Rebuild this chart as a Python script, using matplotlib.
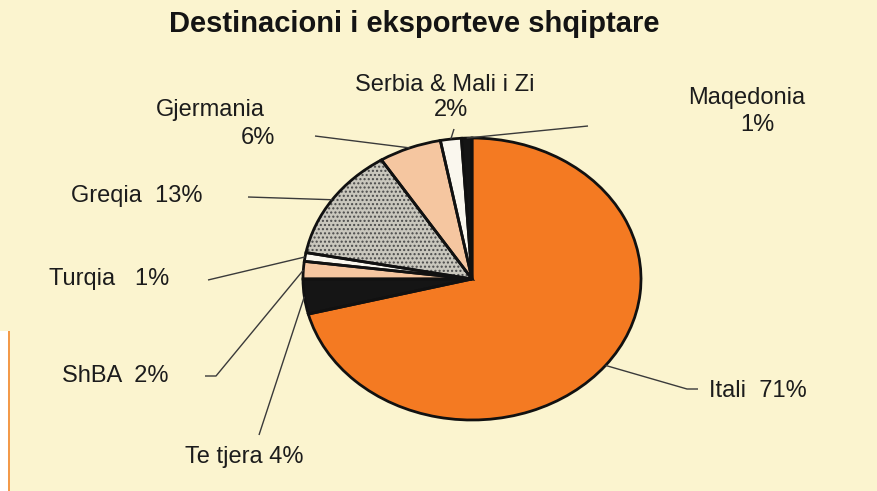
import numpy as np
import matplotlib.pyplot as plt

plt.rcParams['font.family'] = ['Liberation Sans', 'DejaVu Sans']

# data
countries = ["Itali", "Te tjera", "ShBA", "Turqia", "Greqia", "Gjermania", "Serbia & Mali i Zi", "Maqedonia"]
shares = [71, 4, 2, 1, 13, 6, 2, 1]
colors = ["#f47a22", "#151515", "#f5c6a0", "#faf7ee", "#c9c7bd", "#f5c6a0", "#faf7ee", "#151515"]
hatches = [None, None, None, None, "....", None, None, None]

# pixel layout of the (elliptical) pie in the 878x491 picture
W, H = 878, 491
CX, CY, RX, RY = 472, 279, 169, 141


def px(x, y):
    # picture pixel -> data coords
    return (x - CX) / RX, (CY - y) / RY


# label anchors (picture px), alignment, and leader waypoints after the pie edge
labels = {
    "Itali": dict(text="Itali  71%", xy=(709, 391), ha="left", path=[(687, 389), (698, 389)]),
    "Te tjera": dict(text="Te tjera 4%", xy=(185, 457), ha="left", path=[(259, 435)]),
    "ShBA": dict(text="ShBA  2%", xy=(62, 376), ha="left", path=[(216, 376), (205, 376)]),
    "Turqia": dict(text="Turqia   1%", xy=(49, 279), ha="left", path=[(208, 280)]),
    "Greqia": dict(text="Greqia  13%", xy=(71, 196), ha="left", path=[(248, 197)]),
    "Gjermania": dict(text="Gjermania", xy=(210, 110), ha="center", path=[(315, 136)]),
    "Serbia & Mali i Zi": dict(text="Serbia & Mali i Zi", xy=(445, 85), ha="center", path=[(454, 129)]),
    "Maqedonia": dict(text="Maqedonia", xy=(747, 98), ha="center", path=[(588, 126)]),
}
second_line = {
    "Gjermania": ("6%", (258, 138)),
    "Serbia & Mali i Zi": ("2%", (451, 110)),
    "Maqedonia": ("1%", (757, 125)),
}

fig = plt.figure(figsize=(W / 100, H / 100), dpi=100)
fig.patch.set_facecolor("#fbf4cf")
ax = fig.add_axes([0, 0, 1, 1])

# fills
wedges, _ = ax.pie(shares, colors=colors, startangle=90, counterclock=False,
                   wedgeprops=dict(linewidth=0))
# dotted screen on Greqia
ax.pie(shares, colors=["none"] * len(shares), startangle=90, counterclock=False,
       hatch=[h if h else "" for h in hatches],
       wedgeprops=dict(linewidth=0, edgecolor="#4a4a4a"))
# outlines
ax.pie(shares, colors=["none"] * len(shares), startangle=90, counterclock=False,
       wedgeprops=dict(linewidth=2.0, edgecolor="#111111"))

ax.set_aspect("auto")
x0, y1 = px(0, 0)
x1, y0 = px(W, H)
ax.set_xlim(x0, x1)
ax.set_ylim(y0, y1)
ax.axis("off")

for w, name in zip(wedges, countries):
    mid = np.deg2rad((w.theta1 + w.theta2) / 2)
    pts = [(np.cos(mid), np.sin(mid))] + [px(*p) for p in labels[name]["path"]]
    xs, ys = zip(*pts)
    ax.plot(xs, ys, color="#3a3a3a", lw=1.0, solid_capstyle="butt")

    lab = labels[name]
    tx, ty = px(*lab["xy"])
    ax.text(tx, ty, lab["text"], ha=lab["ha"], va="center", fontsize=17, color="#1c1c1c")
    if name in second_line:
        s, p = second_line[name]
        sx, sy = px(*p)
        ax.text(sx, sy, s, ha="center", va="center", fontsize=17, color="#1c1c1c")

tx, ty = px(414, 24)
ax.text(tx, ty, "Destinacioni i eksporteve shqiptare", ha="center", va="center",
        fontsize=21, fontweight="bold", color="#141414")

# scan edge on the lower left
fig.patches.append(plt.Rectangle((0, 0), 8 / W, 160 / H, transform=fig.transFigure,
                                 facecolor="white", edgecolor="none"))
fig.patches.append(plt.Rectangle((8 / W, 0), 2 / W, 160 / H, transform=fig.transFigure,
                                 facecolor="#f39a4a", edgecolor="none"))

fig.savefig("out.png", dpi=100, facecolor=fig.get_facecolor())
